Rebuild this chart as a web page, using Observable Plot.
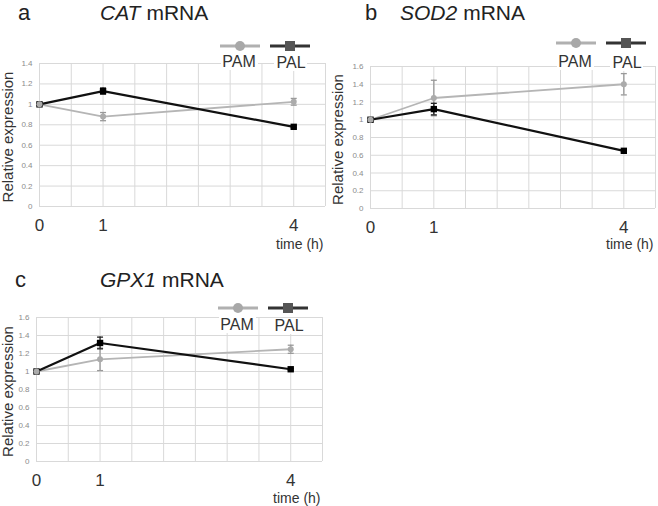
<!DOCTYPE html>
<html>
<head>
<meta charset="utf-8">
<script src="https://cdn.jsdelivr.net/npm/d3@7"></script>
<script src="https://cdn.jsdelivr.net/npm/@observablehq/plot@0.6"></script>
<style>
  body { margin: 0; background: #fff; }
  #wrap { position: relative; width: 658px; height: 506px; background: #fff; font-family: "Liberation Sans", Arial, sans-serif; overflow: hidden; }
  .panel { position: absolute; }
  #overlay { position: absolute; left: 0; top: 0; pointer-events: none; }
</style>
</head>
<body>
<div id="wrap">
  <div class="panel" id="pa" style="left:0px;top:0px"></div>
  <div class="panel" id="pb" style="left:330px;top:0px"></div>
  <div class="panel" id="pc" style="left:0px;top:250px"></div>
</div>
<script>
// ---- data ----
const times = [0, 1, 4];
const xGrid = [0, 0.5, 1, 1.5, 2, 2.5, 3, 3.5, 4, 4.5];
const xTickLabels = [0, 1, 4];
const yTicks14 = [0, 0.2, 0.4, 0.6, 0.8, 1.0, 1.2, 1.4];
const yTicks16 = [0, 0.2, 0.4, 0.6, 0.8, 1.0, 1.2, 1.4, 1.6];
const seriesNames = ["PAM", "PAL"];

const catPAM    = [1.00, 0.88, 1.025];
const catPAMErr = [0.01, 0.04, 0.033];
const catPAL    = [1.00, 1.13, 0.78];
const catPALErr = [0.01, 0.03, 0.01];

const sodPAM    = [1.00, 1.245, 1.40];
const sodPAMErr = [0.01, 0.20, 0.12];
const sodPAL    = [1.00, 1.12, 0.65];
const sodPALErr = [0.01, 0.065, 0.01];

const gpxPAM    = [1.00, 1.135, 1.247];
const gpxPAMErr = [0.01, 0.125, 0.045];
const gpxPAL    = [1.00, 1.317, 1.025];
const gpxPALErr = [0.01, 0.065, 0.01];

// ---- styles ----
const PAM_LINE = "#b5b5b5", PAM_DOT = "#ababab", PAM_ERR = "#999999";
const PAL_LINE = "#111111", PAL_DOT = "#000000", PAL_ERR = "#222222";
const GRID = "#d9d9d9";

const capSymbol = {
  draw(ctx, size) {
    const w = Math.sqrt(size / Math.PI);
    ctx.moveTo(-w, 0); ctx.lineTo(w, 0);
  }
};

function rows(vals, errs) {
  return times.map((t, i) => ({t, v: vals[i], e: errs[i]}));
}

function panel({pam, pamErr, pal, palErr, yTicks, width, height, mt, mr, mb, ml, timeDy}) {
  const A = rows(pam, pamErr), B = rows(pal, palErr);
  const fmt = d => String(+d.toFixed(1));
  return Plot.plot({
    width, height,
    marginTop: mt, marginRight: mr, marginBottom: mb, marginLeft: ml,
    style: {background: "transparent", fontFamily: "Liberation Sans, Arial, sans-serif", overflow: "visible"},
    x: {domain: [0, 4.5], axis: null},
    y: {domain: [0, yTicks[yTicks.length - 1]], axis: null},
    marks: [
      Plot.ruleY(yTicks, {stroke: GRID, strokeWidth: 1}),
      Plot.ruleX(xGrid, {stroke: GRID, strokeWidth: 1}),
      Plot.axisY({ticks: yTicks, tickSize: 0, tickPadding: 7, fontSize: 8, fill: "#8c8c8c", tickFormat: fmt, label: null}),
      Plot.axisX({ticks: xTickLabels, tickSize: 0, tickPadding: 12, fontSize: 17, fill: "#333", tickFormat: d => String(d), label: null}),
      Plot.text(["time (h)"], {frameAnchor: "bottom-right", textAnchor: "end", lineAnchor: "bottom", dx: -2, dy: timeDy, fontSize: 14, fill: "#333"}),
      Plot.text(["Relative expression"], {frameAnchor: "left", rotate: -90, textAnchor: "middle", lineAnchor: "bottom", dx: -ml + 12.5, dy: 2, fontSize: 15, fill: "#333"}),
      // lines
      Plot.line(A, {x: "t", y: "v", stroke: PAM_LINE, strokeWidth: 1.8}),
      Plot.line(B, {x: "t", y: "v", stroke: PAL_LINE, strokeWidth: 2.2}),
      // error bars PAM
      Plot.ruleX(A, {x: "t", y1: d => d.v - d.e, y2: d => d.v + d.e, stroke: PAM_ERR, strokeWidth: 1.3}),
      Plot.dot(A, {x: "t", y: d => d.v + d.e, symbol: capSymbol, r: 3, stroke: PAM_ERR, strokeWidth: 1.3}),
      Plot.dot(A, {x: "t", y: d => d.v - d.e, symbol: capSymbol, r: 3, stroke: PAM_ERR, strokeWidth: 1.3}),
      // error bars PAL
      Plot.ruleX(B, {x: "t", y1: d => d.v - d.e, y2: d => d.v + d.e, stroke: PAL_ERR, strokeWidth: 1.3}),
      Plot.dot(B, {x: "t", y: d => d.v + d.e, symbol: capSymbol, r: 3, stroke: PAL_ERR, strokeWidth: 1.3}),
      Plot.dot(B, {x: "t", y: d => d.v - d.e, symbol: capSymbol, r: 3, stroke: PAL_ERR, strokeWidth: 1.3}),
      // markers
      Plot.dot(B, {x: "t", y: "v", symbol: "square", r: 3.6, fill: PAL_DOT, stroke: "none"}),
      Plot.dot(A, {x: "t", y: "v", symbol: "circle", r: 3, fill: PAM_DOT, stroke: "none"})
    ]
  });
}

document.getElementById("pa").append(panel({pam: catPAM, pamErr: catPAMErr, pal: catPAL, palErr: catPALErr, yTicks: yTicks14, width: 330, height: 250, mt: 63, mr: 5, mb: 44, ml: 39, timeDy: 42}));
document.getElementById("pb").append(panel({pam: sodPAM, pamErr: sodPAMErr, pal: sodPAL, palErr: sodPALErr, yTicks: yTicks16, width: 328, height: 250, mt: 66, mr: 3, mb: 42, ml: 40, timeDy: 40}));
document.getElementById("pc").append(panel({pam: gpxPAM, pamErr: gpxPAMErr, pal: gpxPAL, palErr: gpxPALErr, yTicks: yTicks16, width: 330, height: 256, mt: 67, mr: 8, mb: 45, ml: 36, timeDy: 41}));

// ---- overlay: panel letters, titles, legends ----
const NS = "http://www.w3.org/2000/svg";
const ov = document.createElementNS(NS, "svg");
ov.setAttribute("id", "overlay");
ov.setAttribute("width", 658);
ov.setAttribute("height", 506);
ov.setAttribute("font-family", "Liberation Sans, Arial, sans-serif");
document.getElementById("wrap").append(ov);

function el(tag, attrs, parent = ov) {
  const e = document.createElementNS(NS, tag);
  for (const k in attrs) e.setAttribute(k, attrs[k]);
  parent.append(e);
  return e;
}
function txt(x, y, s, size, extra = {}) {
  const t = el("text", Object.assign({x, y, "font-size": size, fill: "#222"}, extra));
  t.textContent = s;
  return t;
}
function title(x, y, letter, lx, gene) {
  txt(lx, y, letter, 22);
  const t = el("text", {x, y, "font-size": 21, fill: "#222"});
  const a = el("tspan", {"font-style": "italic"}, t); a.textContent = gene;
  const b = el("tspan", {dx: 6}, t); b.textContent = "mRNA";
}
title(100, 20, "a", 18, "CAT");
title(400, 20, "b", 365, "SOD2");
title(100, 287, "c", 15, "GPX1");

function legend(x0, y, labY) {
  // PAM
  el("line", {x1: x0, x2: x0 + 40, y1: y, y2: y, stroke: "#b0b0b0", "stroke-width": 3});
  el("circle", {cx: x0 + 20, cy: y, r: 5, fill: "#a8a8a8"});
  // PAL
  el("line", {x1: x0 + 50, x2: x0 + 90, y1: y, y2: y, stroke: "#333", "stroke-width": 3});
  el("rect", {x: x0 + 65, y: y - 5, width: 10, height: 10, fill: "#555"});
  // labels with white boxes
  el("rect", {x: x0 + 1, y: labY - 13, width: 37, height: 16, fill: "#fff"});
  el("rect", {x: x0 + 54, y: labY - 12, width: 33, height: 16, fill: "#fff"});
  txt(x0 + 19, labY, seriesNames[0], 16, {"text-anchor": "middle", fill: "#333"});
  txt(x0 + 71, labY + 1, seriesNames[1], 16, {"text-anchor": "middle", fill: "#333"});
}
legend(220, 46, 67);
legend(556, 43, 67);
legend(218, 308, 330);
</script>
</body>
</html>
